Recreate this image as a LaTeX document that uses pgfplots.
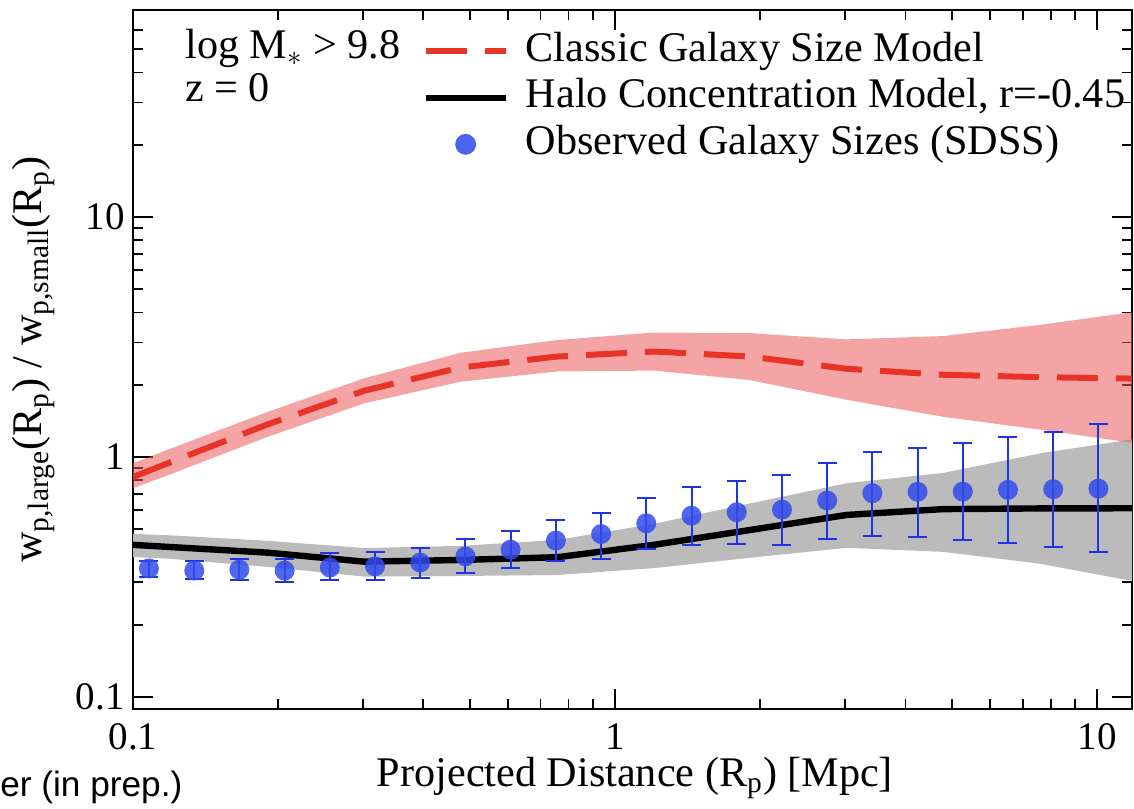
\documentclass[border=0pt]{standalone}
\usepackage{fontspec}
\setmainfont{Liberation Serif}
\newfontfamily\sansf{Liberation Sans}
\usepackage{pgfplots}
\pgfplotsset{compat=1.18}
\usepackage{pgfplotstable}
\usepgfplotslibrary{fillbetween}

\definecolor{grayband}{RGB}{187,187,187}
\definecolor{redband}{RGB}{235,90,90}
\definecolor{redline}{RGB}{232,52,40}
\definecolor{dotblue}{RGB}{50,75,235}
\definecolor{errblue}{RGB}{30,50,230}
\definecolor{legdot}{RGB}{75,100,240}

\pgfplotsset{
  dotlegend/.style={legend image code/.code={\path (0pt,0pt) (40pt,0pt); \fill[legdot] (20pt,0pt) circle[radius=5pt];}}
}

\pgfplotstableread{
x lo hi
0.1 0.383 0.478
0.120 0.376 0.471
0.1905 0.348 0.447
0.302 0.317 0.417
0.479 0.319 0.426
0.759 0.322 0.451
1.202 0.344 0.526
1.905 0.380 0.640
3.02 0.418 0.777
4.79 0.402 0.858
7.59 0.359 1.034
12.02 0.302 1.19
}\graybandtab

\pgfplotstableread{
x lo hi
0.1 0.741 0.941
0.120 0.849 1.085
0.1905 1.214 1.543
0.302 1.674 2.128
0.479 2.06 2.72
0.759 2.27 3.07
1.202 2.29 3.30
1.905 2.09 3.28
3.02 1.73 3.09
4.79 1.47 3.19
7.59 1.30 3.55
12.02 1.14 4.03
}\redbandtab

\pgfplotstableread{
x classic halo
0.1 0.825 0.430
0.120 0.953 0.421
0.1905 1.368 0.399
0.302 1.889 0.366
0.479 2.36 0.372
0.759 2.62 0.382
1.202 2.75 0.430
1.905 2.62 0.496
3.02 2.33 0.573
4.79 2.20 0.606
7.59 2.15 0.610
12.02 2.12 0.611
}\modeltab

\pgfplotstableread{
x y hi lo
0.1079 0.343 0.370 0.315
0.1340 0.336 0.367 0.309
0.1662 0.339 0.374 0.306
0.2063 0.336 0.377 0.300
0.2560 0.346 0.396 0.306
0.3177 0.350 0.400 0.306
0.3941 0.363 0.419 0.312
0.4892 0.385 0.453 0.327
0.6070 0.411 0.489 0.343
0.7535 0.448 0.548 0.367
0.9350 0.477 0.586 0.377
1.160 0.529 0.676 0.413
1.440 0.569 0.748 0.430
1.787 0.588 0.794 0.432
2.218 0.603 0.839 0.428
2.752 0.658 0.947 0.455
3.415 0.706 1.046 0.470
4.238 0.716 1.090 0.463
5.259 0.717 1.140 0.450
6.526 0.729 1.208 0.438
8.099 0.734 1.270 0.423
10.05 0.738 1.376 0.400
}\obstab

\begin{document}
\begin{tikzpicture}
\begin{axis}[
  xmode=log, ymode=log,
  scale only axis, width=499.5pt, height=349.5pt,
  xmin=0.1, xmax=11.8, ymin=0.089, ymax=72.9,
  xtick={0.1,1,10}, xticklabels={0.1,1,10},
  ytick={0.1,1,10}, yticklabels={0.1,1,10},
  minor xtick={0.2,0.3,0.4,0.5,0.6,0.7,0.8,0.9,2,3,4,5,6,7,8,9},
  minor ytick={0.2,0.3,0.4,0.5,0.6,0.7,0.8,0.9,2,3,4,5,6,7,8,9,20,30,40,50,60},
  tick align=inside, xtick pos=both, ytick pos=both,
  major tick length=10pt, minor tick length=5pt,
  every tick/.style={black, line width=0.9pt},
  axis line style={line width=0.9pt},
  tick label style={font=\fontsize{19.5}{22}\selectfont},
  xticklabel style={anchor=base, inner sep=0pt, yshift=-20pt},
  yticklabel style={anchor=east, inner sep=0pt, xshift=-4pt},
  label style={font=\fontsize{21.1}{25}\selectfont},
  xlabel={Projected Distance (R\textsubscript{p}) [Mpc]},
  xlabel style={at={(axis description cs:0.5025,-0.111)}, anchor=base, inner sep=0pt},
  ylabel={w\textsubscript{p,large}(R\textsubscript{p}) / w\textsubscript{p,small}(R\textsubscript{p})},
  ylabel style={at={(axis description cs:-0.0911,0.5)}, anchor=base, inner sep=0pt},
  legend image code/.code={\draw[#1] (0pt,0pt) -- (40pt,0pt);},
  legend cell align=left,
  legend style={at={(axis description cs:0.2893,0.970)}, anchor=north west,
    draw=none, fill=none, inner sep=0pt,
    font=\fontsize{21.1}{25}\selectfont,
    row sep=3.25pt, column sep=8.5pt,
    nodes={inner sep=0pt, text height=15pt, text depth=5pt}},
]
% bands
\addplot[draw=none, name path=gl, forget plot] table[x=x, y=lo] {\graybandtab};
\addplot[draw=none, name path=gh, forget plot] table[x=x, y=hi] {\graybandtab};
\addplot[fill=grayband, draw=none, forget plot] fill between[of=gl and gh];
\addplot[draw=none, name path=rl, forget plot] table[x=x, y=lo] {\redbandtab};
\addplot[draw=none, name path=rh, forget plot] table[x=x, y=hi] {\redbandtab};
\addplot[fill=redband, fill opacity=0.55, draw=none, forget plot] fill between[of=rl and rh];
% model lines
\addplot[black, line width=3.2pt, forget plot] table[x=x, y=halo] {\modeltab};
\addplot[redline, line width=3pt, dash pattern=on 20.5pt off 9pt, forget plot] table[x=x, y=classic] {\modeltab};
% observations
\addplot[dotblue, only marks, mark=*, mark size=5pt,
  mark options={fill=dotblue, fill opacity=0.85, draw opacity=0},
  forget plot,
  error bars/.cd, y dir=both, y explicit,
  error bar style={line width=1pt, color=errblue, draw opacity=1},
  error mark options={rotate=90, mark size=4.75pt, line width=1pt, color=errblue, draw opacity=1}]
  table[x=x, y=y, y error plus expr=\thisrow{hi}-\thisrow{y}, y error minus expr=\thisrow{y}-\thisrow{lo}] {\obstab};
% legend
\addlegendimage{redline, line width=3pt, dash pattern=on 20.5pt off 9pt}
\addlegendentry{Classic Galaxy Size Model}
\addlegendimage{black, line width=3.2pt}
\addlegendentry{Halo Concentration Model, r=-0.45}
\addlegendimage{dotlegend}
\addlegendentry{Observed Galaxy Sizes (SDSS)}
\node[anchor=base west, inner sep=0pt, font=\fontsize{21.1}{25}\selectfont] at (axis description cs:0.052,0.930) {log M$_{\ast}$ > 9.8};
\node[anchor=base west, inner sep=0pt, font=\fontsize{21.1}{25}\selectfont] at (axis description cs:0.052,0.8688) {z = 0};
\end{axis}
\node[anchor=base west, inner sep=0pt, font=\sansf\fontsize{17.6}{20}\selectfont] at (-66.5pt,-43.85pt) {er (in prep.)};
\pgfresetboundingbox
\path[use as bounding box] (-66.5pt,-49.5pt) rectangle (500.5pt,354.5pt);
\end{tikzpicture}
\end{document}
